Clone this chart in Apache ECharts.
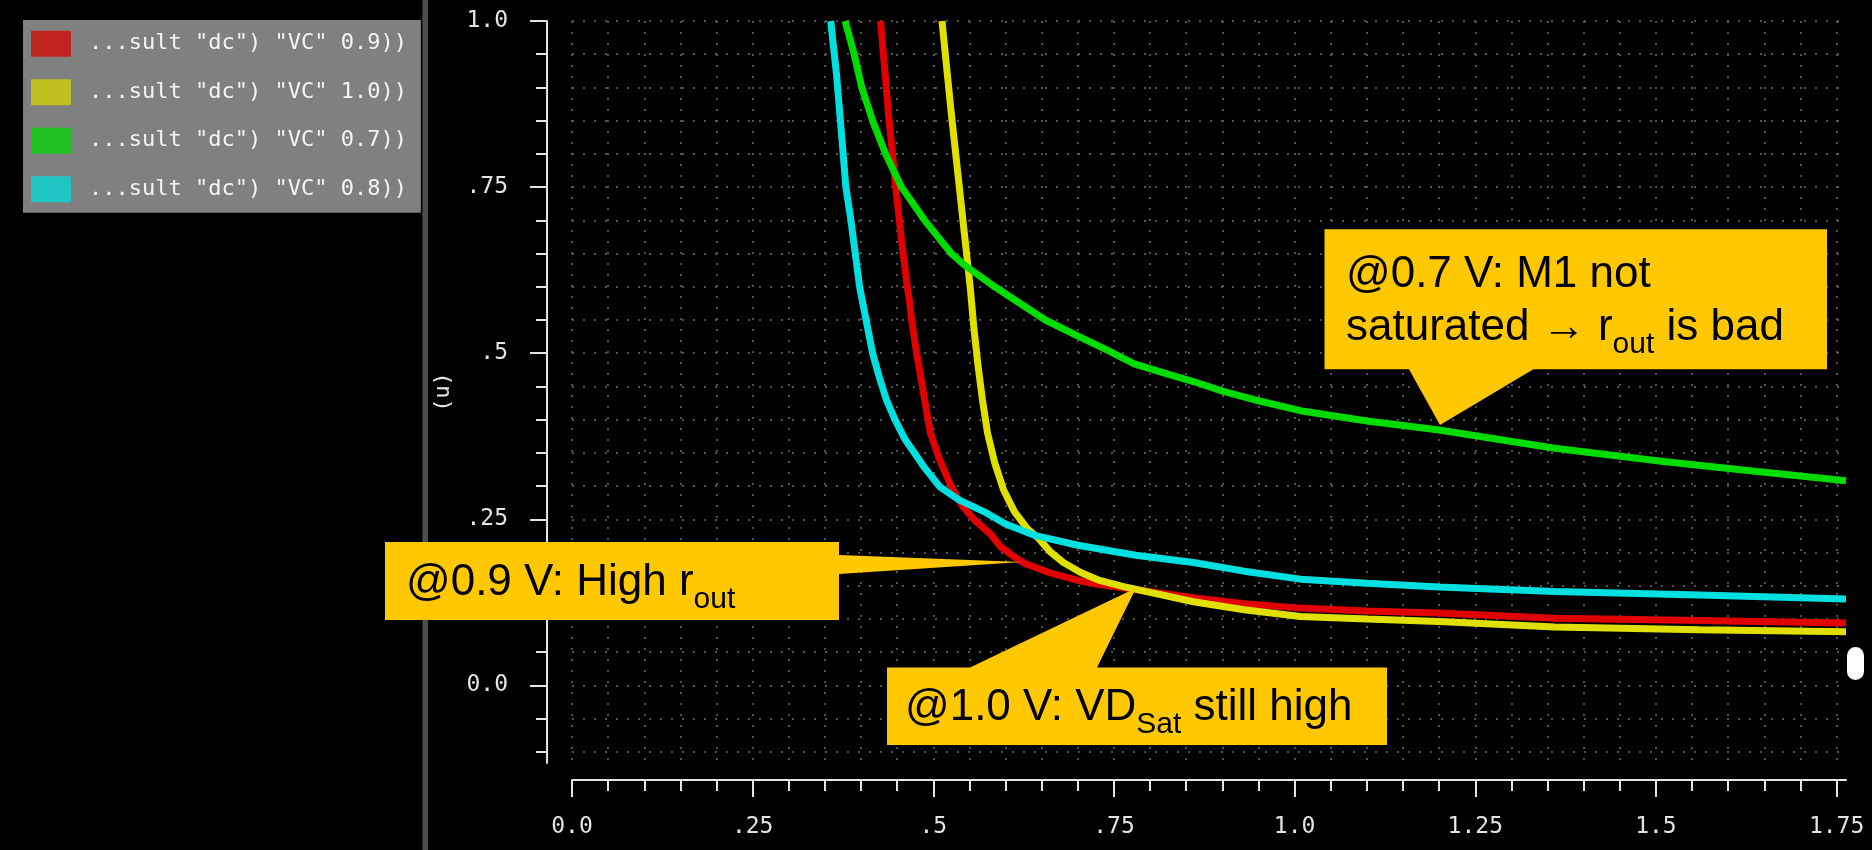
<!DOCTYPE html>
<html>
<head>
<meta charset="utf-8">
<script src="https://cdn.jsdelivr.net/npm/echarts@6/dist/echarts.min.js"></script>
<style>
html,body{margin:0;padding:0;background:#000;}
#c{width:1872px;height:850px;}
</style>
</head>
<body>
<div id="c"></div>
<script>
// ---------------- data ----------------
const seriesNames = ['...sult "dc") "VC" 0.9))', '...sult "dc") "VC" 1.0))', '...sult "dc") "VC" 0.7))', '...sult "dc") "VC" 0.8))'];
const lineColors = ['#e00000', '#e0e000', '#00dc00', '#00e0e0'];
const legendColors = ['#c02420', '#c0c020', '#20c020', '#20c4c4'];

const redX = [0.427, 0.438, 0.448, 0.456, 0.464, 0.467, 0.470, 0.477, 0.488, 0.496, 0.509, 0.525, 0.541, 0.557, 0.578, 0.593, 0.610, 0.626, 0.660, 0.700, 0.730, 0.770, 0.800, 0.860, 0.930, 1.008, 1.100, 1.200, 1.360, 1.560, 1.763];
const redY = [1.000, 0.860, 0.750, 0.670, 0.600, 0.580, 0.550, 0.500, 0.430, 0.380, 0.339, 0.299, 0.269, 0.249, 0.229, 0.209, 0.195, 0.184, 0.170, 0.158, 0.152, 0.146, 0.141, 0.132, 0.123, 0.1164, 0.112, 0.109, 0.101, 0.0978, 0.094];

const yellowX = [0.512, 0.524, 0.536, 0.545, 0.551, 0.556, 0.562, 0.568, 0.575, 0.585, 0.597, 0.612, 0.630, 0.645, 0.663, 0.680, 0.704, 0.730, 0.762, 0.800, 0.860, 0.930, 1.008, 1.100, 1.200, 1.360, 1.560, 1.763];
const yellowY = [1.000, 0.870, 0.750, 0.660, 0.600, 0.540, 0.480, 0.430, 0.380, 0.335, 0.295, 0.262, 0.236, 0.222, 0.200, 0.185, 0.170, 0.158, 0.149, 0.140, 0.126, 0.114, 0.1038, 0.100, 0.0962, 0.0878, 0.0837, 0.081];

const greenX = [0.378, 0.390, 0.401, 0.416, 0.434, 0.456, 0.488, 0.525, 0.544, 0.585, 0.655, 0.696, 0.740, 0.778, 0.820, 0.861, 0.900, 0.944, 1.008, 1.100, 1.200, 1.360, 1.510, 1.640, 1.763];
const greenY = [1.000, 0.952, 0.900, 0.850, 0.800, 0.750, 0.700, 0.650, 0.632, 0.600, 0.550, 0.528, 0.505, 0.484, 0.470, 0.457, 0.443, 0.430, 0.4135, 0.398, 0.3845, 0.357, 0.337, 0.322, 0.308];

const cyanX = [0.358, 0.366, 0.373, 0.379, 0.386, 0.392, 0.398, 0.407, 0.416, 0.425, 0.435, 0.447, 0.461, 0.487, 0.509, 0.536, 0.573, 0.600, 0.640, 0.700, 0.780, 0.860, 0.930, 1.008, 1.100, 1.200, 1.360, 1.560, 1.763];
const cyanY = [1.000, 0.920, 0.830, 0.750, 0.700, 0.650, 0.600, 0.550, 0.500, 0.465, 0.430, 0.400, 0.370, 0.329, 0.299, 0.279, 0.260, 0.243, 0.226, 0.211, 0.196, 0.185, 0.172, 0.160, 0.154, 0.148, 0.1414, 0.136, 0.130];

const xMajorValues = [0, 0.25, 0.5, 0.75, 1.0, 1.25, 1.5, 1.75];
const xMajorLabels = ['0.0', '.25', '.5', '.75', '1.0', '1.25', '1.5', '1.75'];
const yMajorValues = [0, 0.25, 0.5, 0.75, 1.0];
const yMajorLabels = ['0.0', '.25', '.5', '.75', '1.0'];
const xMinorValues = [];
for (let i = 0; i <= 35; i++) xMinorValues.push(Math.round(i * 5) / 100);
const yMinorValues = [];
for (let i = -2; i <= 20; i++) yMinorValues.push(Math.round(i * 5) / 100);

const yAxisName = '(u)';
const callout1 = [['@0.9 V: High r', 0], ['out', 1]];
const callout2 = [['@1.0 V: VD', 0], ['Sat', 1], [' still high', 0]];
const callout3a = [['@0.7 V: M1 not', 0]];
const callout3b = [['saturated \u2192 r', 0], ['out', 1], [' is bad', 0]];

// ---------------- chart ----------------
const X_MIN = 0, X_MAX = 1.763, Y_MIN = -0.1167, Y_MAX = 1.0;
const axisColor = '#e4e4e4';
const monoFont = '"DejaVu Sans Mono", "Liberation Mono", monospace';
const dotted = { color: '#6c6c6c', width: 1.5, type: [2, 9] };

function fmt(values, labels) {
  return function (v) {
    const i = values.findIndex(t => Math.abs(t - v) < 1e-6);
    return i < 0 ? '' : labels[i];
  };
}
function zip(xs, ys) { return xs.map((x, i) => [x, ys[i]]); }

const mctx = document.createElement('canvas').getContext('2d');
function measure(t, size) {
  mctx.font = size + 'px "Liberation Sans"';
  return mctx.measureText(t).width;
}
function textLine(x, baseline, parts) {
  const els = [];
  let cx = x;
  parts.forEach(([t, sub]) => {
    const size = sub ? 30 : 44;
    const bl = baseline + (sub ? 12 : 0);
    els.push({
      type: 'text', x: cx, y: bl - 0.3465 * size, z: 101,
      style: {
        text: t, font: size + 'px "Liberation Sans"', fill: '#000',
        align: 'left', verticalAlign: 'middle', textAlign: 'left', textVerticalAlign: 'middle'
      }
    });
    cx += measure(t, size);
  });
  return els;
}

const graphics = [
  { type: 'rect', shape: { x: 422.5, y: 0, width: 5.5, height: 850 }, style: { fill: '#4e4e4e' }, z: 1 },
  { type: 'rect', shape: { x: 1847, y: 647, width: 17, height: 33, r: 8.5 }, style: { fill: '#ffffff' }, z: 100 },
  { type: 'polygon', shape: { points: [[385, 542], [839, 542], [839, 555], [1022, 562], [839, 574], [839, 620], [385, 620]] }, style: { fill: '#ffc800' }, z: 100 },
  { type: 'polygon', shape: { points: [[887, 667.5], [970, 667.5], [1136, 588], [1097, 667.5], [1387, 667.5], [1387, 745], [887, 745]] }, style: { fill: '#ffc800' }, z: 100 },
  { type: 'polygon', shape: { points: [[1324.5, 229.3], [1827, 229.3], [1827, 369.3], [1533.4, 369.3], [1440, 425], [1409, 369.3], [1324.5, 369.3]] }, style: { fill: '#ffc800' }, z: 100 }
].concat(textLine(406, 598, callout1))
 .concat(textLine(905, 723, callout2))
 .concat(textLine(1346, 290, callout3a))
 .concat(textLine(1346, 343, callout3b));

const chart = echarts.init(document.getElementById('c'), null, { renderer: 'canvas', width: 1872, height: 850 });

const option = {
  backgroundColor: '#000',
  animation: false,
  grid: { left: 572, right: 26, top: 21, bottom: 87, containLabel: false },
  legend: {
    orient: 'vertical', left: 23, top: 20,
    padding: [10.7, 14, 10.6, 8],
    itemGap: 22.5, itemWidth: 40, itemHeight: 26, icon: 'rect',
    backgroundColor: '#808080', borderWidth: 0,
    selectedMode: false,
    itemStyle: { borderWidth: 0 },
    textStyle: { color: '#f4f4f4', fontFamily: monoFont, fontSize: 22, padding: [0, 0, 0, 13], lineHeight: 26 },
    data: seriesNames.map((n, i) => ({ name: n, itemStyle: { color: legendColors[i], borderWidth: 0 } }))
  },
  xAxis: [
    {
      type: 'value', min: X_MIN, max: X_MAX, position: 'bottom', offset: 17,
      axisLine: { show: true, onZero: false, lineStyle: { color: axisColor, width: 2 } },
      axisTick: { show: true, customValues: xMajorValues, length: 17, lineStyle: { color: axisColor, width: 2 } },
      axisLabel: { show: true, customValues: xMajorValues, formatter: fmt(xMajorValues, xMajorLabels), margin: 36, color: axisColor, fontFamily: monoFont, fontSize: 23 },
      splitLine: { show: false }
    },
    {
      type: 'value', min: X_MIN, max: X_MAX, position: 'bottom', offset: 17,
      axisLine: { show: false, onZero: false },
      axisTick: { show: true, customValues: xMinorValues, length: 11, lineStyle: { color: axisColor, width: 2 } },
      axisLabel: { show: false },
      splitLine: { show: true, lineStyle: dotted }
    }
  ],
  yAxis: [
    {
      type: 'value', min: Y_MIN, max: Y_MAX, position: 'left', offset: 25,
      name: yAxisName, nameLocation: 'middle', nameGap: 93, nameRotate: 90,
      nameTextStyle: { color: axisColor, fontFamily: monoFont, fontSize: 22 },
      axisLine: { show: true, onZero: false, lineStyle: { color: axisColor, width: 2 } },
      axisTick: { show: true, customValues: yMajorValues, length: 17, lineStyle: { color: axisColor, width: 2 } },
      axisLabel: { show: true, customValues: yMajorValues, formatter: fmt(yMajorValues, yMajorLabels), margin: 39, color: axisColor, fontFamily: monoFont, fontSize: 23 },
      splitLine: { show: false }
    },
    {
      type: 'value', min: Y_MIN, max: Y_MAX, position: 'left', offset: 25,
      axisLine: { show: false, onZero: false },
      axisTick: { show: true, customValues: yMinorValues, length: 11, lineStyle: { color: axisColor, width: 2 } },
      axisLabel: { show: false },
      splitLine: { show: true, lineStyle: dotted }
    }
  ],
  series: [
    { name: seriesNames[0], data: zip(redX, redY) },
    { name: seriesNames[1], data: zip(yellowX, yellowY) },
    { name: seriesNames[2], data: zip(greenX, greenY) },
    { name: seriesNames[3], data: zip(cyanX, cyanY) }
  ].map((s, i) => Object.assign(s, {
    type: 'line', xAxisIndex: 0, yAxisIndex: 0, showSymbol: false, symbol: 'none', clip: true,
    color: lineColors[i], lineStyle: { color: lineColors[i], width: 7 }
  })),
  graphic: { elements: graphics }
};
chart.setOption(option);
</script>
</body>
</html>
